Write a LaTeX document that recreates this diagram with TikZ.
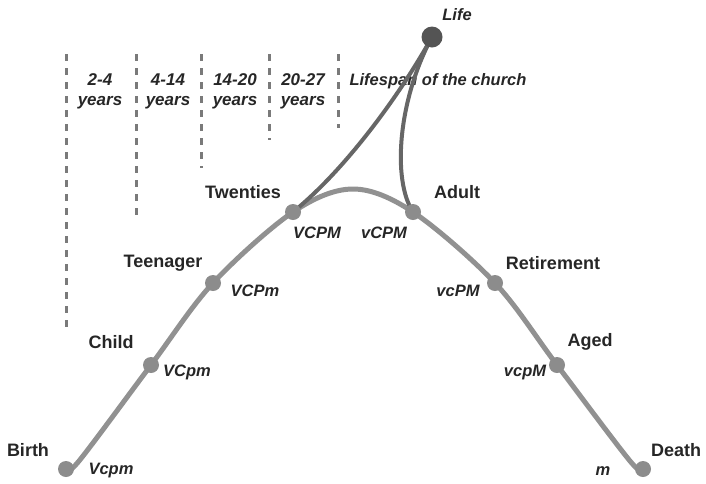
\documentclass[tikz,border=0pt]{standalone}
\usepackage{fontspec}
\setmainfont{Liberation Sans}
\begin{document}
\begin{tikzpicture}[x=1pt,y=-1pt,
  lbl/.style={font=\fontsize{18}{20}\selectfont\bfseries, text=black!85},
  cod/.style={font=\fontsize{16.5}{19}\selectfont\bfseries\itshape, text=black!85},
  yr/.style={font=\fontsize{17}{20}\selectfont\bfseries\itshape, text=black!85, align=center},
  dot/.style={circle, fill=black!45, minimum size=16pt, inner sep=0pt},
  bigdot/.style={circle, fill=black!67, minimum size=21pt, inner sep=0pt},
  lifecurve/.style={draw=black!43, line width=5pt, line cap=round},
  churchline/.style={draw=black!60, line width=4pt, line cap=round},
  sep/.style={draw=black!52, line width=3pt, dash pattern=on 7pt off 7pt}]
\useasboundingbox (0,0) rectangle (706,483);

% separators
\coordinate (s1a) at (66,54);  \coordinate (s1b) at (66,332);
\coordinate (s2a) at (136,54); \coordinate (s2b) at (136,216);
\coordinate (s3a) at (201,54); \coordinate (s3b) at (201,168);
\coordinate (s4a) at (269,54); \coordinate (s4b) at (269,140);
\coordinate (s5a) at (338,54); \coordinate (s5b) at (338,128);
\foreach \i in {1,...,5} {\draw[sep] (s\i a) -- (s\i b);}

\node[yr] (y1) at (100,91) {2-4\\years};
\node[yr] (y2) at (168,91) {4-14\\years};
\node[yr] (y3) at (235,91) {14-20\\years};
\node[yr] (y4) at (303,91) {20-27\\years};
\node[cod, anchor=west] (church) at (346,81) {Lifespan of the church};

% stage positions
\coordinate (birth) at (66,469);
\coordinate (tailL) at (79,461);
\coordinate (child) at (151,365);
\coordinate (teen) at (213,283);
\coordinate (twen) at (293,212);
\coordinate (peak) at (353,189);
\coordinate (adult) at (413,212);
\coordinate (retire) at (495,283);
\coordinate (aged) at (557,365);
\coordinate (tailR) at (630,461);
\coordinate (death) at (643,469);
\coordinate (life) at (432,37);

% main curve
\draw[lifecurve] plot[smooth, tension=0.55] coordinates {(birth) (tailL) (child) (teen) (twen) (peak) (adult) (retire) (aged) (tailR) (death)};

% church lines
\draw[churchline] (life) .. controls (400,95) and (345,170) .. (twen);
\draw[churchline] (life) .. controls (398,100) and (392,180) .. (adult);

% dots
\foreach \p in {birth,child,teen,twen,adult,retire,aged,death} {\node[dot] (d\p) at (\p) {};}
\node[bigdot] (dlife) at (life) {};

% labels
\node[cod] (llife) at (457,15) {Life};
\node[lbl] (lbirth) at (28,450) {Birth};
\node[lbl] (lchild) at (111,342) {Child};
\node[lbl] (lteen) at (163,263) {Teenager};
\node[lbl] (ltwen) at (243,192) {Twenties};
\node[lbl] (ladult) at (457,192) {Adult};
\node[lbl] (lret) at (553,263) {Retirement};
\node[lbl] (laged) at (590,342) {Aged};
\node[lbl] (ldeath) at (676,450) {Death};

\node[cod] (cbirth) at (111,471) {Vcpm};
\node[cod] (cchild) at (187,372) {VCpm};
\node[cod] (cteen) at (255,291) {VCPm};
\node[cod] (ctwen) at (317,233) {VCPM};
\node[cod] (cadult) at (384,233) {vCPM};
\node[cod] (cret) at (458,291) {vcPM};
\node[cod] (caged) at (525,373) {vcpM};
\node[cod] (cdeath) at (603,471) {m};
\end{tikzpicture}
\end{document}
